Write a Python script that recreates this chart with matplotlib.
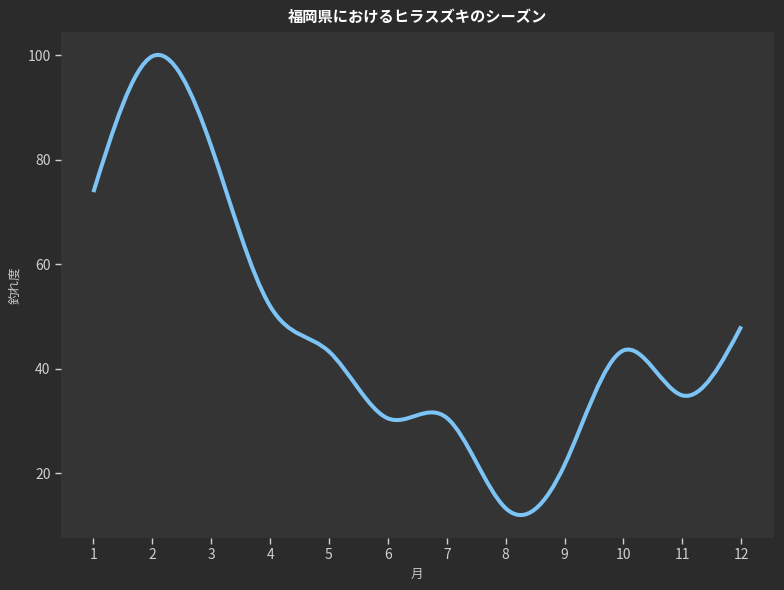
import numpy as np
import matplotlib
matplotlib.use("Agg")
import matplotlib.pyplot as plt
from matplotlib.path import Path
from matplotlib.patches import PathPatch

plt.rcParams['font.family'] = ['Noto Sans CJK JP', 'DejaVu Sans']

months = [1, 2, 3, 4, 5, 6, 7, 8, 9, 10, 11, 12]
catch = [73.8, 99.8, 82.6, 52.0, 43.3, 30.5, 30.6, 13.3, 21.6, 43.5, 34.9, 48.1]
title = "福岡県におけるヒラスズキのシーズン"
xlabel = "月"
ylabel = "釣れ度"


def spline_slopes(x, y):
    # natural cubic spline
    x = np.asarray(x, float)
    y = np.asarray(y, float)
    n = len(x)
    h = np.diff(x)
    A = np.zeros((n, n))
    b = np.zeros(n)
    A[0, 0] = 1.0
    A[-1, -1] = 1.0
    for i in range(1, n - 1):
        A[i, i - 1] = h[i - 1]
        A[i, i] = 2 * (h[i - 1] + h[i])
        A[i, i + 1] = h[i]
        b[i] = 6 * ((y[i + 1] - y[i]) / h[i] - (y[i] - y[i - 1]) / h[i - 1])
    M = np.linalg.solve(A, b)
    m = np.zeros(n)
    for i in range(n - 1):
        m[i] = (y[i + 1] - y[i]) / h[i] - h[i] * (2 * M[i] + M[i + 1]) / 6
    m[-1] = (y[-1] - y[-2]) / h[-1] + h[-1] * (M[-2] + 2 * M[-1]) / 6
    return m


def smooth_path(x, y):
    m = spline_slopes(x, y)
    verts = [(x[0], y[0])]
    codes = [Path.MOVETO]
    for i in range(len(x) - 1):
        h = x[i + 1] - x[i]
        verts += [(x[i] + h / 3, y[i] + m[i] * h / 3),
                  (x[i + 1] - h / 3, y[i + 1] - m[i + 1] * h / 3),
                  (x[i + 1], y[i + 1])]
        codes += [Path.CURVE4] * 3
    return Path(verts, codes)


fig = plt.figure(figsize=(7.84, 5.90), dpi=100, facecolor='#2b2b2b')
ax = fig.add_axes([0.0778, 0.088, 0.909, 0.858])
ax.set_facecolor('#343434')

patch = PathPatch(smooth_path(months, catch), facecolor='none',
                  edgecolor='#7cc4f5', linewidth=2.9, capstyle='butt')
ax.add_patch(patch)
ax.margins(x=0.05, y=0.05)
ax.autoscale_view()

for s in ax.spines.values():
    s.set_visible(False)

ax.set_xticks(months)
ax.set_yticks([20, 40, 60, 80, 100])
ax.tick_params(colors='#d0d0d0', labelsize=10, length=4, width=1)
ax.set_title(title, color='white', fontsize=11, fontweight='bold', pad=7)
ax.set_xlabel(xlabel, color='#c8c8c8', fontsize=9)
ax.set_ylabel(ylabel, color='#c8c8c8', fontsize=9)

fig.savefig('out.png', dpi=100, facecolor=fig.get_facecolor())
